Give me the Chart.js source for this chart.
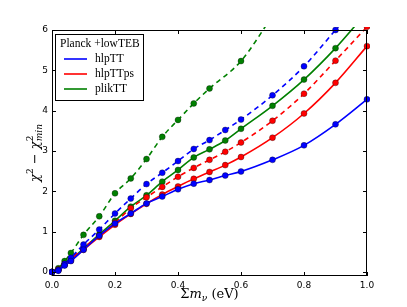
<!DOCTYPE html>
<html><head><meta charset="utf-8">
<script src="https://cdn.jsdelivr.net/npm/chart.js@4/dist/chart.umd.min.js"></script>
<style>html,body{margin:0;padding:0;background:#fff}#wrap{width:407px;height:307px}</style>
</head><body><div id="wrap"><canvas id="c" width="407" height="307"></canvas></div>
<script>
const xs = [0, 0.02, 0.04, 0.06, 0.1, 0.15, 0.2, 0.25, 0.3, 0.35, 0.4, 0.45, 0.5, 0.55, 0.6, 0.7, 0.8, 0.9, 1.0];
const hlpTT      = [0, 0.03, 0.16, 0.27, 0.55, 0.90, 1.20, 1.45, 1.70, 1.87, 2.05, 2.19, 2.28, 2.39, 2.49, 2.78, 3.14, 3.66, 4.28];
const hlpTTdash  = [0, 0.05, 0.20, 0.35, 0.68, 1.05, 1.45, 1.82, 2.18, 2.46, 2.75, 3.05, 3.27, 3.52, 3.78, 4.38, 5.10, 6.00, 6.90];
const hlpTTps    = [0, 0.04, 0.17, 0.28, 0.55, 0.87, 1.17, 1.44, 1.69, 1.92, 2.12, 2.31, 2.48, 2.65, 2.85, 3.33, 3.93, 4.69, 5.60];
const hlpTTpsDash= [0, 0.06, 0.20, 0.32, 0.60, 0.90, 1.22, 1.58, 1.85, 2.11, 2.36, 2.58, 2.78, 2.98, 3.21, 3.75, 4.42, 5.24, 6.08];
const plikTT     = [0, 0.05, 0.18, 0.30, 0.58, 0.93, 1.27, 1.62, 1.90, 2.24, 2.53, 2.84, 3.04, 3.26, 3.55, 4.12, 4.77, 5.55, 6.45];
const plikTTdash = [0, 0.09, 0.27, 0.47, 0.92, 1.38, 1.95, 2.32, 2.80, 3.35, 3.77, 4.18, 4.55, null, 5.23, 6.35];
const xTicks = [0, 0.2, 0.4, 0.6, 0.8, 1.0];
const yTicks = [0, 1, 2, 3, 4, 5, 6];
const legendTitle = 'Planck +lowTEB';
const names = ['hlpTT', 'hlpTTps', 'plikTT'];
const colors = ['#0000ff', '#ff0000', '#008000'];

function pts(arr){ return arr.map((v,i)=>({x:xs[i], y:v})).filter(p=>p.y!==null); }
function ds(arr, color, dashed){
  return {data: pts(arr), showLine:true, borderColor:color, backgroundColor:color,
    borderWidth:1.6, borderDash: dashed?[5,4]:[], pointRadius:3, pointHoverRadius:3,
    pointBackgroundColor:color, pointBorderColor:'rgba(0,0,0,0.55)', pointBorderWidth:0.6,
    cubicInterpolationMode:'monotone', clip: 3};
}
const SERIF='"Liberation Serif"';
const frame = {
  id:'frame',
  afterDatasetsDraw(chart){
    const {ctx, chartArea:a, scales:{x,y}} = chart;
    ctx.save();
    ctx.strokeStyle='#000'; ctx.lineWidth=1;
    ctx.strokeRect(a.left+0.5, a.top+0.5, a.right-a.left-1, a.bottom-a.top-1);
    ctx.beginPath();
    xTicks.forEach(v=>{const p=Math.round(x.getPixelForValue(v))+0.5;
      ctx.moveTo(p,a.bottom); ctx.lineTo(p,a.bottom-4); ctx.moveTo(p,a.top); ctx.lineTo(p,a.top+4);});
    yTicks.forEach(v=>{const p=Math.round(y.getPixelForValue(v))+0.5;
      ctx.moveTo(a.left,p); ctx.lineTo(a.left+4,p); ctx.moveTo(a.right,p); ctx.lineTo(a.right-4,p);});
    ctx.stroke();
    // legend
    const lx=55, ly=34, lw=88, lh=66;
    ctx.fillStyle='#fff'; ctx.fillRect(lx,ly,lw,lh);
    ctx.strokeRect(lx+0.5,ly+0.5,lw,lh);
    ctx.fillStyle='#000'; ctx.font='11.5px '+SERIF; ctx.textBaseline='middle'; ctx.textAlign='left';
    ctx.fillText(legendTitle, lx+5, ly+10);
    names.forEach((n,i)=>{
      const yy = ly+25+i*15;
      ctx.strokeStyle=colors[i]; ctx.lineWidth=1.6; ctx.beginPath(); ctx.moveTo(lx+9,yy); ctx.lineTo(lx+32,yy); ctx.stroke();
      ctx.fillStyle='#000'; ctx.fillText(n, lx+40, yy);
    });
    // axis titles
    const cx=(a.left+a.right)/2;
    ctx.textBaseline='alphabetic';
    let parts=[['Σ','13px "DejaVu Serif"',0],['m','italic 13px "DejaVu Serif"',0],['ν','italic 9px "DejaVu Serif"',3],[' (eV)','13px "DejaVu Serif"',0]];
    drawRich(ctx, parts, cx, 298);
    ctx.save();
    ctx.translate(34, (a.top+a.bottom)/2); ctx.rotate(-Math.PI/2);
    parts=[['χ','italic 13px "DejaVu Serif"',0],['2','9px "DejaVu Serif"',-6],[' − ','13px "DejaVu Serif"',0],['χ','italic 13px "DejaVu Serif"',0],['2','9px "DejaVu Serif"',-6,true],['min','italic 9px "DejaVu Serif"',3]];
    drawRich(ctx, parts, 0, 5);
    ctx.restore();
    ctx.restore();
  }
};
function drawRich(ctx, parts, cx, by){
  let w=0; const widths=[];
  parts.forEach(p=>{ctx.font=p[1]; const ww=ctx.measureText(p[0]).width; widths.push(ww); if(!p[3]) w+=ww;});
  let xx=cx-w/2;
  parts.forEach((p,i)=>{ctx.font=p[1]; ctx.fillStyle='#000'; ctx.textAlign='left'; ctx.fillText(p[0], xx, by+p[2]); if(!p[3]) xx+=widths[i];});
}
new Chart(document.getElementById('c'), {
  type:'scatter',
  data:{datasets:[
    ds(hlpTT, colors[0], false), ds(hlpTTdash, colors[0], true),
    ds(hlpTTps, colors[1], false), ds(hlpTTpsDash, colors[1], true),
    ds(plikTT, colors[2], false), ds(plikTTdash, colors[2], true)
  ]},
  options:{
    responsive:false, animation:false, devicePixelRatio:1,
    layout:{padding:{left:0, top:30, right:40, bottom:0}},
    plugins:{legend:{display:false}, tooltip:{enabled:false}},
    scales:{
      x:{type:'linear', min:0, max:1,
        afterBuildTicks:s=>{s.ticks=xTicks.map(v=>({value:v}));},
        afterFit:s=>{s.height=31;},
        grid:{display:false, drawTicks:false}, border:{display:false},
        ticks:{padding:4, color:'#000', font:{family:'DejaVu Sans', size:9}, callback:v=>Number(v).toFixed(1), maxRotation:0}},
      y:{type:'linear', min:-0.1, max:6,
        afterBuildTicks:s=>{s.ticks=yTicks.map(v=>({value:v}));},
        afterFit:s=>{s.width=52;},
        grid:{display:false, drawTicks:false}, border:{display:false},
        ticks:{padding:4, color:'#000', font:{family:'DejaVu Sans', size:9}, callback:v=>String(v)}}
    }
  },
  plugins:[frame]
});
</script></body></html>
